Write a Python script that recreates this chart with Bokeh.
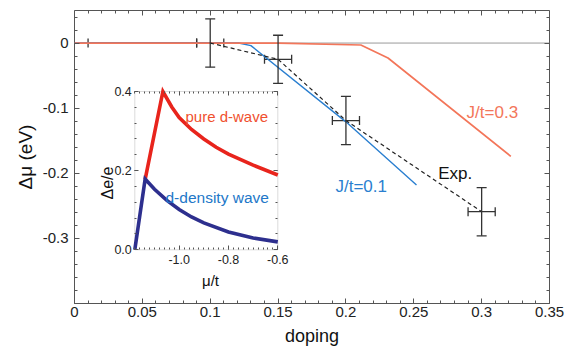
from bokeh.plotting import figure
from bokeh.models import (Range1d, LinearAxis, FixedTicker, CustomJSTickFormatter, Span,
                          Whisker, TeeHead, ColumnDataSource, Label, BoxAnnotation)
from bokeh.embed import file_html
from bokeh.resources import INLINE

# ---------------- data ----------------
jt03_doping = [0.0, 0.15, 0.211, 0.231, 0.3215]
jt03_dmu = [0.0, 0.0, -0.003, -0.023, -0.174]

jt01_doping = [0.0, 0.121, 0.130, 0.200, 0.252]
jt01_dmu = [0.0, 0.0, -0.004, -0.121, -0.218]

exp_doping = [0.10, 0.15, 0.20, 0.30]
exp_dmu = [0.0, -0.025, -0.119, -0.259]
exp_xerr = [0.01, 0.01, 0.01, 0.01]
exp_yerr = [0.037, 0.037, 0.037, 0.037]

low_doping = [0.05]
low_dmu = [0.0]
low_xerr = [0.04]

# inset
dw_mu = [-1.138, -1.066, -1.03, -1.0, -0.95, -0.9, -0.85, -0.8, -0.7, -0.6]
dw_de = [0.178, 0.400, 0.361, 0.334, 0.304, 0.280, 0.259, 0.242, 0.214, 0.189]
ddw_mu = [-1.180, -1.138, -1.1, -1.05, -1.0, -0.95, -0.9, -0.8, -0.7, -0.6]
ddw_de = [0.000, 0.179, 0.153, 0.125, 0.102, 0.083, 0.068, 0.045, 0.030, 0.020]

x_ticks = [0.0, 0.05, 0.1, 0.15, 0.2, 0.25, 0.3, 0.35]
x_tick_labels = ["0", "0.05", "0.1", "0.15", "0.2", "0.25", "0.3", "0.35"]
y_ticks = [0.0, -0.1, -0.2, -0.3]
y_tick_labels = ["0", "-0.1", "-0.2", "-0.3"]
ix_ticks = [-1.0, -0.8, -0.6]
ix_tick_labels = ["-1.0", "-0.8", "-0.6"]
iy_ticks = [0.0, 0.2, 0.4]
iy_tick_labels = ["0.0", "0.2", "0.4"]

# ---------------- layout (page pixels) ----------------
W, H = 572, 350
FRAME_L, FRAME_R, FRAME_T, FRAME_B = 74, 549, 10, 303
INSET_L, INSET_R, INSET_T, INSET_B = 134.3, 277.3, 91, 249.3
X0, X1, Y0, Y1 = 0.0, 0.35, -0.4, 0.05
IX0, IX1, IY0, IY1 = -1.18, -0.6, 0.0, 0.4

sx = (INSET_R - INSET_L) / (IX1 - IX0)
sy = (INSET_B - INSET_T) / (IY1 - IY0)
ix_start = IX0 - (INSET_L - FRAME_L) / sx
ix_end = IX1 + (FRAME_R - INSET_R) / sx
iy_start = IY0 - (FRAME_B - INSET_B) / sy
iy_end = IY1 + (INSET_T - FRAME_T) / sy

FONT = "Liberation Sans"
ORANGE = "#f3765a"
BLUE = "#2a7fd0"
RED = "#e8241c"
RED_TXT = "#f0502e"
NAVY = "#2d2f8e"
NAVY_TXT = "#2277c8"
ERR = "#333333"
AX = "#555555"

p = figure(width=W, height=H, output_backend="svg", toolbar_location=None,
           x_range=Range1d(X0, X1), y_range=Range1d(Y0, Y1),
           x_axis_location=None, y_axis_location=None,
           min_border_left=FRAME_L, min_border_right=W - FRAME_R,
           min_border_top=FRAME_T, min_border_bottom=H - FRAME_B)
p.extra_x_ranges = {"ix": Range1d(ix_start, ix_end)}
p.extra_y_ranges = {"iy": Range1d(iy_start, iy_end)}
p.outline_line_color = AX
p.outline_line_width = 1
p.background_fill_color = "white"
p.border_fill_color = "white"
for g in p.grid:
    g.visible = False


def fmt(ticks, labels):
    return CustomJSTickFormatter(args=dict(tv=list(ticks), tl=list(labels)), code="""
        for (let i = 0; i < tv.length; i++) { if (Math.abs(tv[i] - tick) < 1e-9) return tl[i]; }
        return "";
    """)


def blank():
    return CustomJSTickFormatter(code="return '';")


def style(ax, tin, mtin, fs=None, standoff=3):
    ax.axis_line_color = None
    ax.major_tick_in = tin
    ax.major_tick_out = 0
    ax.minor_tick_in = mtin
    ax.minor_tick_out = 0
    ax.major_tick_line_color = AX
    ax.minor_tick_line_color = AX
    ax.major_label_text_font = FONT
    ax.major_label_text_color = "#222222"
    if fs:
        ax.major_label_text_font_size = fs
    ax.major_label_standoff = standoff
    ax.axis_label_text_font = FONT
    ax.axis_label_text_font_style = "normal"
    ax.axis_label_text_color = "#111111"


x_minor = [round(0.01 * i, 2) for i in range(0, 36)]
y_minor = [round(-0.4 + 0.02 * i, 2) for i in range(0, 23)]
ix_minor = [round(-1.18 + 0.02 * i, 2) for i in range(0, 30)]
iy_minor = [round(0.04 * i, 2) for i in range(0, 11)]

# main axes (labelled ones sit in the side panels)
ab = LinearAxis(ticker=FixedTicker(ticks=x_ticks, minor_ticks=x_minor),
                formatter=fmt(x_ticks, x_tick_labels), axis_label="doping")
style(ab, 5, 3, "15px", 3)
ab.axis_label_text_font_size = "18px"
ab.axis_label_standoff = 6
p.add_layout(ab, "below")

al = LinearAxis(ticker=FixedTicker(ticks=y_ticks, minor_ticks=y_minor),
                formatter=fmt(y_ticks, y_tick_labels), axis_label="Δμ (eV)")
style(al, 5, 3, "15px", 6)
al.axis_label_text_font_size = "19px"
al.axis_label_standoff = 4
p.add_layout(al, "left")

# mirrored tick marks on top / right
at = LinearAxis(fixed_location=Y1, ticker=FixedTicker(ticks=x_ticks, minor_ticks=x_minor),
                formatter=blank())
style(at, 5, 3)
p.add_layout(at, "above")

ar = LinearAxis(fixed_location=X1, ticker=FixedTicker(ticks=y_ticks, minor_ticks=y_minor),
                formatter=blank())
style(ar, 5, 3)
p.add_layout(ar, "right")

# zero line
p.add_layout(Span(location=0, dimension="width", line_color="#9a9a9a", line_width=1, level="underlay"))

# horizontal error bars (under the curves)
hsrc = ColumnDataSource(dict(y=exp_dmu + low_dmu,
                             lo=[d - e for d, e in zip(exp_doping + low_doping, exp_xerr + low_xerr)],
                             hi=[d + e for d, e in zip(exp_doping + low_doping, exp_xerr + low_xerr)]))
p.add_layout(Whisker(source=hsrc, base="y", lower="lo", upper="hi", dimension="width",
                     line_color=ERR, line_width=1.3, level="underlay",
                     upper_head=TeeHead(size=9, line_color=ERR, line_width=1.3),
                     lower_head=TeeHead(size=9, line_color=ERR, line_width=1.3)))

# theory curves and experiment
p.line(jt01_doping, jt01_dmu, line_color=BLUE, line_width=1.4)
p.line(jt03_doping, jt03_dmu, line_color=ORANGE, line_width=1.7)
p.line(exp_doping, exp_dmu, line_color="#222222", line_width=1.2, line_dash="4 3")

vsrc = ColumnDataSource(dict(x=exp_doping,
                             lo=[m - e for m, e in zip(exp_dmu, exp_yerr)],
                             hi=[m + e for m, e in zip(exp_dmu, exp_yerr)]))
p.add_layout(Whisker(source=vsrc, base="x", lower="lo", upper="hi", dimension="height",
                     line_color=ERR, line_width=1.3, level="annotation",
                     upper_head=TeeHead(size=10, line_color=ERR, line_width=1.3),
                     lower_head=TeeHead(size=10, line_color=ERR, line_width=1.3)))

p.add_layout(Label(x=0.2889, y=-0.1067, text="J/t=0.3", text_font=FONT, text_font_size="17px",
                   text_color=ORANGE, text_baseline="alphabetic"))
p.add_layout(Label(x=0.1923, y=-0.2204, text="J/t=0.1", text_font=FONT, text_font_size="17px",
                   text_color=BLUE, text_baseline="alphabetic"))
p.add_layout(Label(x=0.268, y=-0.2003, text="Exp.", text_font=FONT, text_font_size="17px",
                   text_color="#111111", text_baseline="alphabetic"))

# ---------------- inset ----------------
p.add_layout(BoxAnnotation(left=IX0, right=IX1, bottom=IY0, top=IY1, x_range_name="ix", y_range_name="iy",
                           fill_color="white", fill_alpha=1, line_color="#8a8a8a", line_width=1,
                           level="underlay"))

ib = LinearAxis(x_range_name="ix", y_range_name="iy", fixed_location=IY0, bounds=(IX0, IX1),
                ticker=FixedTicker(ticks=ix_ticks, minor_ticks=ix_minor),
                formatter=fmt(ix_ticks, ix_tick_labels))
style(ib, 4, 2, "12.5px", 5)
p.add_layout(ib, "below")
it = LinearAxis(x_range_name="ix", y_range_name="iy", fixed_location=IY1, bounds=(IX0, IX1),
                ticker=FixedTicker(ticks=ix_ticks, minor_ticks=ix_minor), formatter=blank())
style(it, 4, 2)
p.add_layout(it, "above")
il = LinearAxis(x_range_name="ix", y_range_name="iy", fixed_location=IX0, bounds=(IY0, IY1),
                ticker=FixedTicker(ticks=iy_ticks, minor_ticks=iy_minor),
                formatter=fmt(iy_ticks, iy_tick_labels))
style(il, 4, 2, "12.5px", 3)
p.add_layout(il, "left")
ir = LinearAxis(x_range_name="ix", y_range_name="iy", fixed_location=IX1, bounds=(IY0, IY1),
                ticker=FixedTicker(ticks=iy_ticks, minor_ticks=iy_minor), formatter=blank())
style(ir, 4, 2)
p.add_layout(ir, "right")

p.line(dw_mu, dw_de, x_range_name="ix", y_range_name="iy", line_color=RED, line_width=3.6,
       line_join="miter")
p.line(ddw_mu, ddw_de, x_range_name="ix", y_range_name="iy", line_color=NAVY, line_width=3.6,
       line_join="miter")

p.add_layout(Label(x=-0.9744, y=0.3375, x_range_name="ix", y_range_name="iy", text="pure d-wave",
                   text_font=FONT, text_font_size="15px", text_color=RED_TXT, text_baseline="alphabetic"))
p.add_layout(Label(x=-1.0555, y=0.1329, x_range_name="ix", y_range_name="iy", text="d-density wave",
                   text_font=FONT, text_font_size="15.5px", text_color=NAVY_TXT, text_baseline="alphabetic"))
p.add_layout(Label(x=-0.873, y=-0.0776, x_range_name="ix", y_range_name="iy", text="μ/t",
                   text_font=FONT, text_font_size="15px", text_color="#111111",
                   text_align="center", text_baseline="alphabetic"))
p.add_layout(Label(x=-1.2907, y=0.1688, x_range_name="ix", y_range_name="iy", text="Δe/e",
                   angle=1.5707963, text_font=FONT, text_font_size="16px", text_color="#111111",
                   text_align="center", text_baseline="alphabetic"))

open("out.html", "w").write(file_html(p, INLINE))
